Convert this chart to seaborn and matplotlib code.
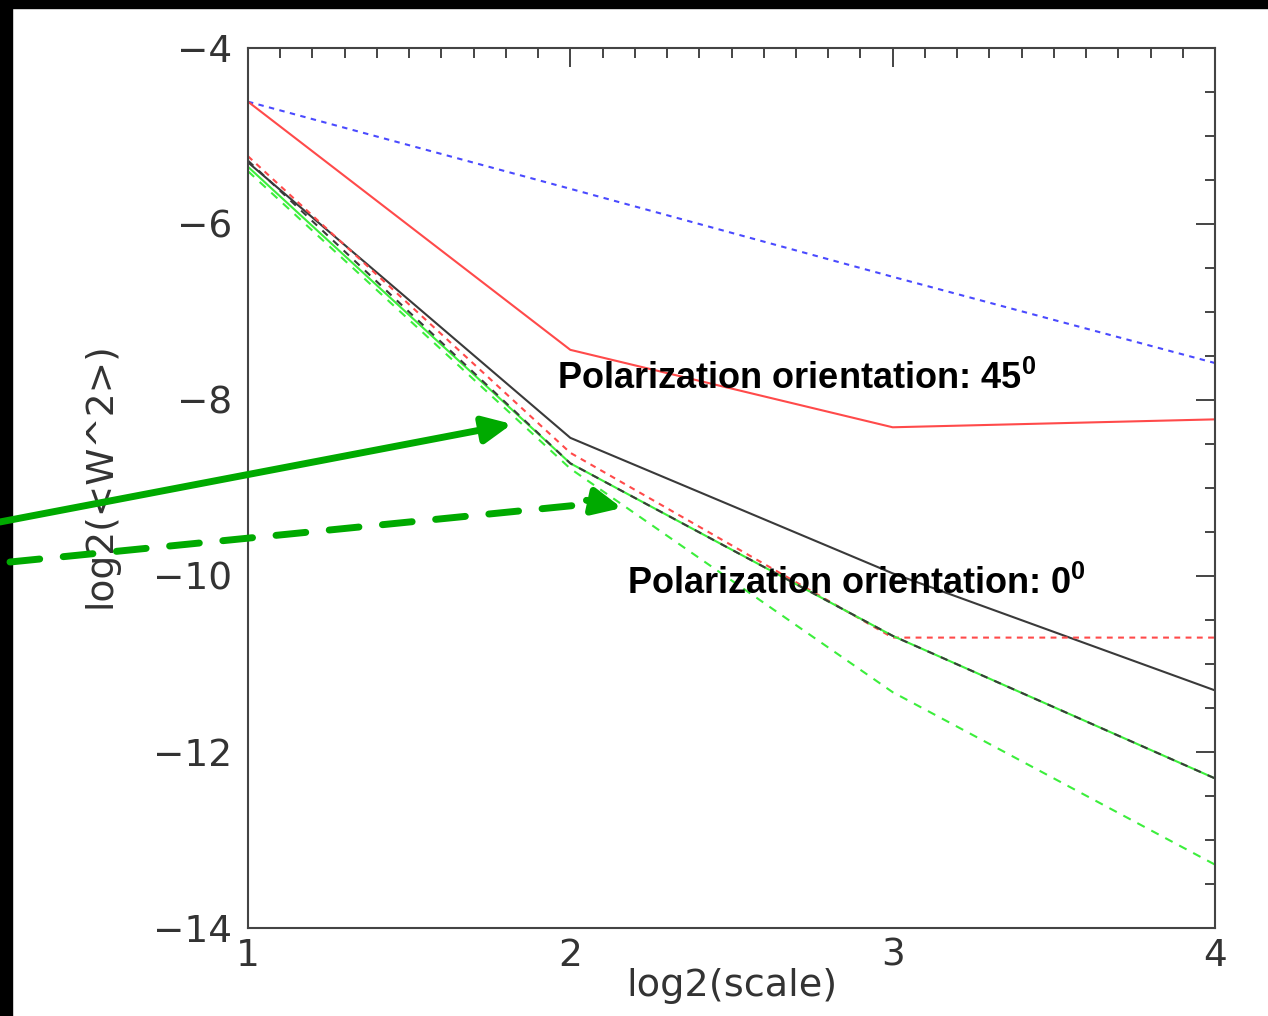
import matplotlib
matplotlib.use("Agg")
import matplotlib.pyplot as plt
from matplotlib.patches import Rectangle
from matplotlib.ticker import MultipleLocator
import seaborn as sns
import pandas as pd

# ---- data ----
scale = [1, 2, 3, 4]
blue_dotted = [-4.61, -5.60, -6.60, -7.58]
red_solid = [-4.61, -7.43, -8.31, -8.22]
black_solid = [-5.30, -8.43, -9.97, -11.30]
red_dashed = [-5.23, -8.60, -10.70, -10.70]
green_solid = [-5.35, -8.72, -10.68, -12.30]
black_dashed = [-5.28, -8.72, -10.68, -12.30]
green_dashed = [-5.40, -8.78, -11.32, -13.28]

x_ticks = [1, 2, 3, 4]
y_ticks = [-14, -12, -10, -8, -6, -4]
x_label = "log2(scale)"
y_label = "log2(<W^2>)"
label_45 = r"Polarization orientation: 45$^\mathbf{0}$"
label_0 = r"Polarization orientation: 0$^\mathbf{0}$"

sns.set_style("white")
plt.rcParams["font.family"] = ["DejaVu Sans"]
plt.rcParams["mathtext.fontset"] = "custom"
plt.rcParams["mathtext.rm"] = "Liberation Sans"
plt.rcParams["mathtext.bf"] = "Liberation Sans:bold"

W, H = 1268, 1016
fig = plt.figure(figsize=(W / 100, H / 100), dpi=100)
fig.patch.set_facecolor("white")
ax = fig.add_axes([248 / W, 1 - 928 / H, (1215 - 248) / W, (928 - 48) / H])

# black frame strips (left and top)
fig.patches.append(Rectangle((0, 0), 12 / W, 1, transform=fig.transFigure,
                             color="black", zorder=-1))
fig.patches.append(Rectangle((0, 1 - 8 / H), 1, 8 / H, transform=fig.transFigure,
                             color="black", zorder=-1))

series = [
    ("blue_dotted", blue_dotted, "#4a4aff", (0, (2.6, 2.6)), 1.5),
    ("red_solid", red_solid, "#ff4a4a", "-", 1.5),
    ("black_solid", black_solid, "#3a3a3a", "-", 1.5),
    ("red_dashed", red_dashed, "#ff4a4a", (0, (2.8, 2.6)), 1.5),
    ("green_solid", green_solid, "#3cee3c", "-", 1.5),
    ("black_dashed", black_dashed, "#3a3a3a", (0, (3.5, 3.5)), 1.5),
    ("green_dashed", green_dashed, "#3cee3c", (0, (4.0, 3.6)), 1.5),
]
for name, vals, col, ls, lw in series:
    df = pd.DataFrame({"scale": scale, "value": vals})
    sns.lineplot(data=df, x="scale", y="value", ax=ax, color=col,
                 linestyle=ls, linewidth=lw, legend=False)

ax.set_xlim(1, 4)
ax.set_ylim(-14, -4)
ax.set_xticks(x_ticks)
ax.set_yticks(y_ticks)
ax.xaxis.set_minor_locator(MultipleLocator(0.1))
ax.yaxis.set_minor_locator(MultipleLocator(0.5))
ax.tick_params(which="both", direction="in", top=True, right=True,
               color="#444444", width=1.4)
ax.tick_params(which="major", length=14, labelsize=27, labelcolor="#333333")
ax.tick_params(which="minor", length=7)
ax.tick_params(axis="y", which="major", pad=11.5)
ax.tick_params(axis="x", which="major", pad=7)
for sp in ax.spines.values():
    sp.set_color("#444444")
    sp.set_linewidth(1.5)

ax.set_xlabel(x_label, fontsize=27.5, color="#333333")
ax.set_ylabel(y_label, fontsize=27, color="#333333")
ax.xaxis.set_label_coords(0.5, -0.046)
ax.yaxis.set_label_coords(-0.1344, 0.515)

# annotations
txt_kw = dict(fontsize=26, fontweight="bold", color="black",
              family=["Liberation Sans", "DejaVu Sans"], va="baseline", ha="left")
ax.text(1.959, -7.875, label_45, **txt_kw)
ax.text(2.176, -10.20, label_0, **txt_kw)

green = "#00aa00"
# solid arrow
ax.annotate("", xy=(1.819, -8.273), xytext=(0.2305, -9.386),
            xycoords="data", textcoords="data", annotation_clip=False,
            arrowprops=dict(arrowstyle="-|>,head_length=0.85,head_width=0.4",
                            mutation_scale=20, color=green, lw=5,
                            shrinkA=0, shrinkB=0))
# dashed arrow: dashed shaft + solid head
ax.annotate("", xy=(2.09, -9.17), xytext=(0.2616, -9.841),
            xycoords="data", textcoords="data", annotation_clip=False,
            arrowprops=dict(arrowstyle="-", color=green, lw=5,
                            linestyle=(0, (4.3, 3.4)),
                            shrinkA=0, shrinkB=0))
ax.annotate("", xy=(2.160, -9.227), xytext=(2.05, -9.14),
            xycoords="data", textcoords="data", annotation_clip=False,
            arrowprops=dict(arrowstyle="-|>,head_length=0.85,head_width=0.4",
                            mutation_scale=20, color=green, lw=5,
                            shrinkA=0, shrinkB=0))

fig.savefig("out.png", dpi=100)
